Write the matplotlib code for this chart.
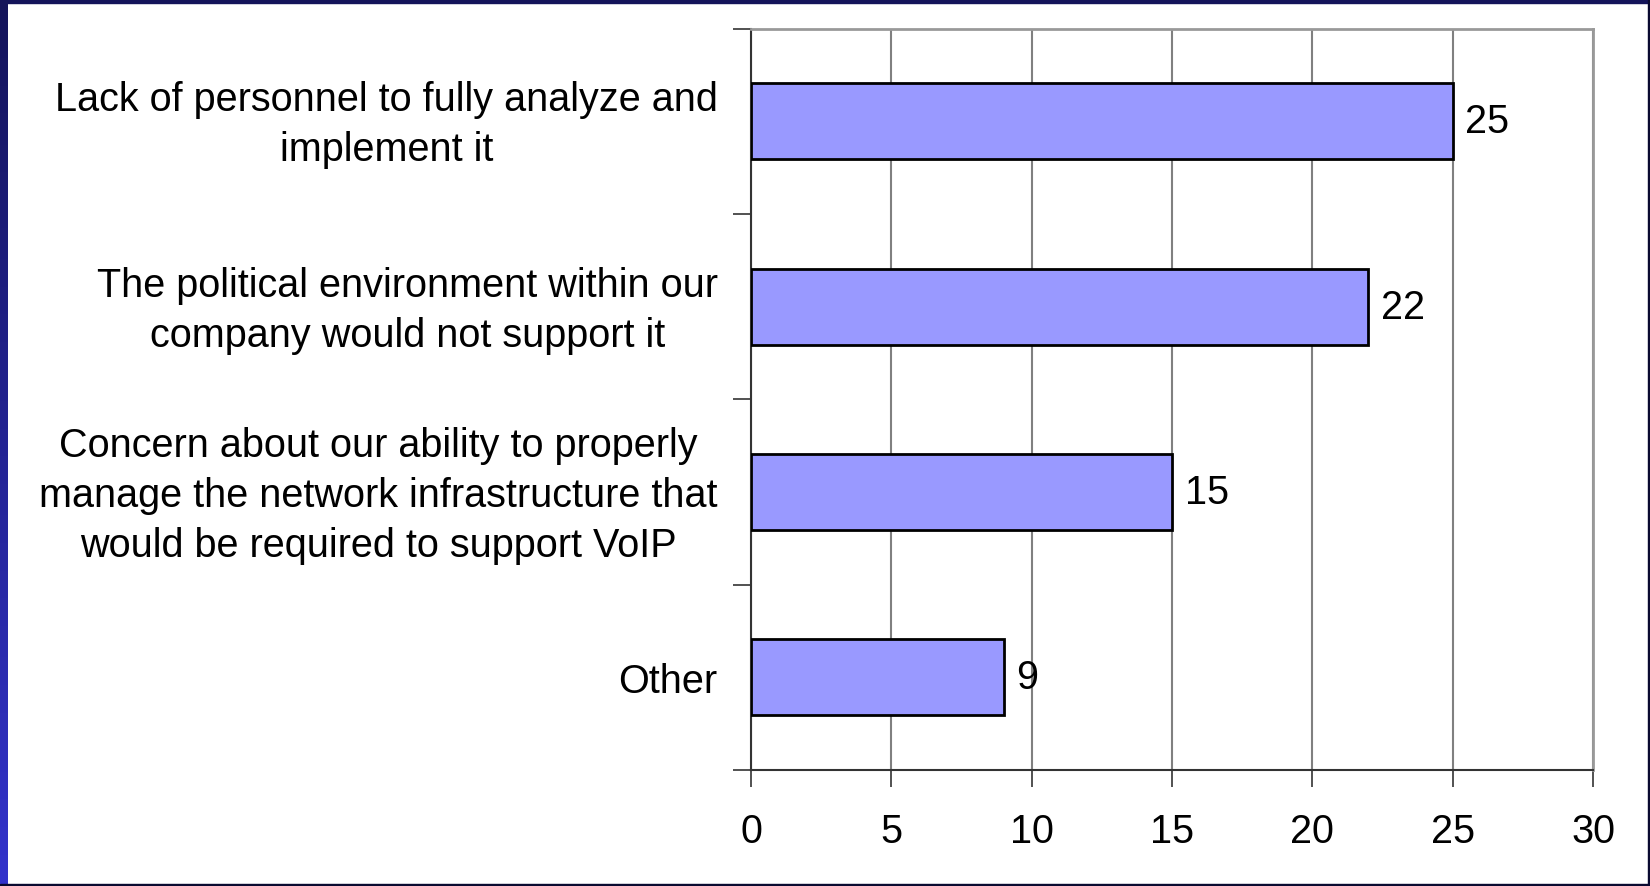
import numpy as np
from matplotlib import pyplot as plt
from matplotlib.patches import Rectangle
from matplotlib.colors import LinearSegmentedColormap
from matplotlib.transforms import ScaledTranslation

plt.rcParams['font.family'] = ['Liberation Sans', 'DejaVu Sans']

categories = [
    "Lack of personnel to fully analyze and\nimplement it",
    "The political environment within our\ncompany would not support it",
    "Concern about our ability to properly\nmanage the network infrastructure that\nwould be required to support VoIP",
    "Other",
]
values = [25, 22, 15, 9]
x_ticks = [0, 5, 10, 15, 20, 25, 30]

W, H = 1650, 887
fig = plt.figure(figsize=(W / 100, H / 100), dpi=100)
fig.patch.set_facecolor("white")

# slide frame: gradient strip on the left, thin dark lines elsewhere
strip = fig.add_axes([0, 0, 7 / W, 1])
grad = np.linspace(0, 1, 256).reshape(-1, 1)
cmap = LinearSegmentedColormap.from_list("frame", ["#14145a", "#3333cc"])
strip.imshow(grad, aspect="auto", cmap=cmap, extent=[0, 1, 0, 1], origin="upper")
strip.axis("off")
fig.patches.append(Rectangle((0, 1 - 4 / H), 1, 4 / H, transform=fig.transFigure,
                             color="#14145a", zorder=5))
fig.patches.append(Rectangle((1 - 2 / W, 0), 2 / W, 1, transform=fig.transFigure,
                             color="#0a0a30", zorder=5))
fig.patches.append(Rectangle((0, 0), 1, 2 / H, transform=fig.transFigure,
                             color="#0a0a30", zorder=5))

ax = fig.add_axes([751 / W, 1 - 771 / H, (1593 - 751) / W, (771 - 29.5) / H])

fs = 28.5
y = np.arange(len(categories))
ax.barh(y, values, height=0.41, color="#9999ff", edgecolor="black", linewidth=2, zorder=3)
for yi, v in zip(y, values):
    ax.text(v + 0.45, yi, str(v), va="center", ha="left", fontsize=fs, zorder=4)

ax.set_xlim(0, 30)
ax.set_ylim(len(categories) - 0.5, -0.5)
ax.set_xticks(x_ticks)
ax.set_xticklabels([str(t) for t in x_ticks], fontsize=fs)
ax.set_yticks(y)
ax.set_yticklabels(categories, fontsize=fs, multialignment="center", linespacing=1.4)
ax.set_yticks(np.arange(-0.5, len(categories)), minor=True)
ax.tick_params(axis="y", which="major", length=0, pad=24)
ax.tick_params(axis="y", which="minor", length=13, width=1.2, color="#333333")
ax.tick_params(axis="x", length=12, width=1.2, color="#333333", pad=18)

# multi-line labels sit a bit high in the original
for lab in ax.get_yticklabels():
    if "\n" in lab.get_text():
        lab.set_transform(lab.get_transform() + ScaledTranslation(0, 7 / 100, fig.dpi_scale_trans))

ax.xaxis.grid(True, color="#808080", linewidth=1.5, zorder=0)
ax.set_axisbelow(True)
for s in ["top", "right"]:
    ax.spines[s].set_color("#999999")
    ax.spines[s].set_linewidth(2)
for s in ["left", "bottom"]:
    ax.spines[s].set_color("#333333")
    ax.spines[s].set_linewidth(1.5)

fig.savefig("out.png", dpi=100, facecolor="white")
